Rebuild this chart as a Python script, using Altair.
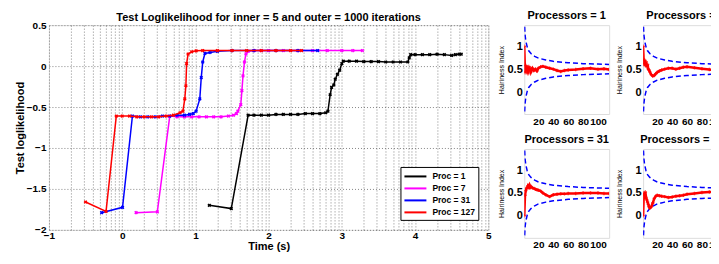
import math
import altair as alt
import pandas as pd

FONT = "Liberation Sans"

# ---------------- main plot data (Time in s, test log-likelihood) ----------------
series_names = ["Proc = 1", "Proc = 7", "Proc = 31", "Proc = 127"]
series_colors = ["#000000", "#ff00ff", "#0000ff", "#ff0000"]

t_p1 = [1.19, 1.49, 1.72, 1.80, 1.90, 2.00, 2.10, 2.20, 2.30, 2.40, 2.50, 2.60, 2.70, 2.78,
        2.81, 2.84, 2.86, 2.89, 2.91, 2.94, 2.97, 3.00, 3.02, 3.10, 3.20, 3.30, 3.40, 3.50,
        3.60, 3.70, 3.80, 3.90, 3.92, 3.94, 4.00, 4.10, 4.20, 4.30, 4.40, 4.50, 4.55, 4.60, 4.63]
ll_p1 = [-1.70, -1.74, -0.60, -0.60, -0.60, -0.60, -0.59, -0.59, -0.59, -0.59, -0.58, -0.58, -0.58, -0.57,
         -0.55, -0.35, -0.26, -0.23, -0.16, -0.10, -0.05, 0.03, 0.06, 0.06, 0.06, 0.055, 0.055, 0.055,
         0.05, 0.05, 0.05, 0.05, 0.10, 0.14, 0.14, 0.14, 0.14, 0.145, 0.14, 0.13, 0.14, 0.145, 0.145]

t_p7 = [0.19, 0.48, 0.65, 0.75, 0.85, 0.95, 1.05, 1.15, 1.25, 1.35, 1.45, 1.52, 1.56, 1.58,
        1.62, 1.635, 1.65, 1.67, 1.69, 1.72, 1.80, 1.90, 2.00, 2.20, 2.40, 2.60, 2.80, 3.00, 3.15, 3.28]
ll_p7 = [-1.79, -1.78, -0.61, -0.62, -0.62, -0.62, -0.62, -0.62, -0.62, -0.62, -0.61, -0.60, -0.58, -0.55,
         -0.47, -0.30, -0.12, 0.05, 0.15, 0.18, 0.19, 0.19, 0.19, 0.19, 0.19, 0.19, 0.19, 0.19, 0.19, 0.19]

t_p31 = [-0.28, 0.005, 0.14, 0.25, 0.35, 0.45, 0.55, 0.65, 0.75, 0.85, 0.92, 0.97, 1.01, 1.06,
         1.08, 1.10, 1.13, 1.20, 1.30, 1.50, 1.80, 2.10, 2.40, 2.67]
ll_p31 = [-1.79, -1.725, -0.61, -0.62, -0.62, -0.62, -0.61, -0.61, -0.60, -0.60, -0.59, -0.58, -0.55, -0.40,
          -0.14, 0.05, 0.155, 0.166, 0.18, 0.19, 0.19, 0.19, 0.19, 0.19]

t_p127 = [-0.50, -0.22, -0.08, 0.00, 0.10, 0.20, 0.30, 0.40, 0.50, 0.60, 0.70, 0.79, 0.83, 0.855,
          0.87, 0.88, 0.90, 0.95, 1.01, 1.10, 1.30, 1.50, 1.70, 1.90, 2.10, 2.30, 2.45]
ll_p127 = [-1.66, -1.775, -0.61, -0.61, -0.61, -0.62, -0.62, -0.62, -0.62, -0.61, -0.60, -0.57, -0.55, -0.40,
           -0.24, 0.03, 0.147, 0.175, 0.186, 0.19, 0.19, 0.19, 0.19, 0.19, 0.19, 0.19, 0.19]

main_y_ticks = [-2, -1.5, -1, -0.5, 0, 0.5]

# ---------------- hairiness panels data ----------------
panel_titles = ["Processors = 1", "Processors = 7", "Processors = 31", "Processors = 127"]
hn = [1, 2, 3, 4, 5, 6, 7, 8, 9, 10, 12, 14, 16, 18, 20, 23, 26, 30, 35, 40, 45, 50, 55, 60,
      70, 80, 90, 100, 108, 115]
h_p1 = [1.0, 0.42, 0.58, 0.45, 0.55, 0.40, 0.56, 0.46, 0.53, 0.44, 0.52, 0.47, 0.50, 0.46, 0.52,
        0.55, 0.56, 0.54, 0.52, 0.50, 0.47, 0.45, 0.47, 0.48, 0.49, 0.51, 0.52, 0.50, 0.51, 0.49]
h_p7 = [1.0, 0.60, 0.70, 0.58, 0.66, 0.55, 0.60, 0.50, 0.48, 0.44, 0.38, 0.35, 0.36, 0.40, 0.43,
        0.46, 0.48, 0.50, 0.52, 0.52, 0.50, 0.52, 0.54, 0.55, 0.53, 0.51, 0.49, 0.47, 0.47, 0.47]
h_p31 = [0.0, 0.45, 0.55, 0.60, 0.62, 0.66, 0.63, 0.67, 0.62, 0.64, 0.61, 0.60, 0.58, 0.57, 0.56,
         0.54, 0.50, 0.46, 0.42, 0.46, 0.47, 0.48, 0.48, 0.49, 0.49, 0.50, 0.50, 0.50, 0.49, 0.49]
h_p127 = [0.0, 0.50, 0.45, 0.52, 0.40, 0.35, 0.30, 0.25, 0.20, 0.17, 0.20, 0.28, 0.38, 0.43, 0.45,
          0.44, 0.43, 0.42, 0.40, 0.41, 0.43, 0.44, 0.45, 0.47, 0.49, 0.51, 0.52, 0.52, 0.50, 0.49]

band_n = [1, 2, 3, 5, 7, 10, 15, 20, 30, 40, 60, 80, 100, 115]
band_upper = [1.60, 1.26, 1.12, 0.98, 0.90, 0.84, 0.78, 0.74, 0.70, 0.67, 0.64, 0.62, 0.61, 0.60]
band_lower = [-0.60, -0.26, -0.12, 0.02, 0.10, 0.16, 0.22, 0.26, 0.30, 0.33, 0.36, 0.38, 0.39, 0.40]

panel_x_ticks = [20, 40, 60, 80, 100]
panel_y_ticks = [0, 0.5, 1]

# ---------------- main chart ----------------
rows = []
for name, ts, ls in [(series_names[0], t_p1, ll_p1), (series_names[1], t_p7, ll_p7),
                     (series_names[2], t_p31, ll_p31), (series_names[3], t_p127, ll_p127)]:
    for i, (t, l) in enumerate(zip(ts, ls)):
        rows.append({"series": name, "t": t, "ll": l, "i": i})
df = pd.DataFrame(rows)

# axis positions: integer ticks plus matlab-style minor grid positions
x_grid = sorted(set([k + math.log10(m) for k in range(-1, 5) for m in range(1, 10)] + [5]))

color_scale = alt.Scale(domain=series_names, range=series_colors)

x_enc = alt.X("t:Q", scale=alt.Scale(domain=[-1, 5], nice=False, zero=False),
              axis=alt.Axis(values=x_grid, title="Time (s)",
                            labelExpr="abs(datum.value - round(datum.value)) < 0.001 ? format(datum.value, 'd') : ''",
                            grid=True, gridDash=[1, 2], gridColor="#555555", gridOpacity=0.7,
                            ticks=False, domain=False, labelOverlap=False, labelFlush=False,
                            labelPadding=1, titlePadding=0, labelFontSize=10, titleFontSize=11,
                            labelFont=FONT, titleFont=FONT, labelFontWeight="bold", titleFontWeight="bold",
                            labelColor="black", titleColor="black"))
y_enc = alt.Y("ll:Q", scale=alt.Scale(domain=[-2, 0.5], nice=False, zero=False),
              axis=alt.Axis(values=main_y_ticks, format="~g", title="Test loglikelihood",
                            grid=True, gridDash=[1, 2], gridColor="#555555", gridOpacity=0.7,
                            ticks=False, domain=False, labelOverlap=False, labelFlush=False,
                            labelPadding=3, titlePadding=1, labelFontSize=10, titleFontSize=11,
                            labelFont=FONT, titleFont=FONT, labelFontWeight="bold", titleFontWeight="bold",
                            labelColor="black", titleColor="black"))

legend = alt.Legend(title=None, orient="none", legendX=352, legendY=142, strokeColor="black",
                    fillColor="white", padding=3, symbolType="M-1,0L3,0", symbolStrokeWidth=2,
                    symbolSize=121, labelFont=FONT, labelFontWeight="bold", labelFontSize=8.5,
                    labelColor="black", rowPadding=1, labelOffset=16)

layers = []
for name in series_names:
    b = alt.Chart(df).transform_filter(alt.datum.series == name)
    layers.append(b.mark_line(strokeWidth=1.5).encode(
        x=x_enc, y=y_enc, order="i:Q",
        color=alt.Color("series:N", scale=color_scale, legend=legend)))
    layers.append(b.mark_point(shape="cross", angle=45, size=14, filled=True, opacity=1).encode(
        x=x_enc, y=y_enc,
        color=alt.Color("series:N", scale=color_scale, legend=legend)))

main = alt.layer(*layers).properties(
    width=440, height=205,
    title=alt.TitleParams(["", "Test Loglikelihood for inner = 5 and outer = 1000 iterations"],
                          font=FONT, fontSize=11, fontWeight="bold", color="black", offset=-3,
                          lineHeight=3))

# ---------------- hairiness panels ----------------
band_df = pd.DataFrame({"n": band_n, "upper": band_upper, "lower": band_lower})


def panel(title, values, height):
    pdf = pd.DataFrame({"n": hn, "h": values})
    px = alt.X("n:Q", scale=alt.Scale(domain=[1, 115], nice=False, zero=False),
               axis=alt.Axis(values=panel_x_ticks, title=None, grid=False, ticks=False, domain=False,
                             labelOverlap=False, labelFlush=False, labelPadding=2, labelFontSize=10,
                             labelFont=FONT, labelFontWeight="bold", labelColor="black"))
    py_axis = alt.Axis(values=panel_y_ticks, format="~g", title="Hairiness Index", grid=False,
                       ticks=False, domain=False, labelOverlap=False, labelFlush=False, labelPadding=2,
                       labelFontSize=11, labelFont=FONT, labelFontWeight="bold", labelColor="black",
                       titleFontSize=7, titleFont=FONT, titleFontWeight="normal", titleColor="black",
                       titlePadding=3)
    ysc = alt.Scale(domain=[-0.48, 1.46], nice=False, zero=False)
    up = alt.Chart(band_df).mark_line(color="#0000ff", strokeDash=[5, 3], strokeWidth=1.5, clip=True).encode(
        x=px, y=alt.Y("upper:Q", scale=ysc, axis=py_axis))
    lo = alt.Chart(band_df).mark_line(color="#0000ff", strokeDash=[5, 3], strokeWidth=1.5, clip=True).encode(
        x=px, y=alt.Y("lower:Q", scale=ysc, axis=py_axis))
    red = alt.Chart(pdf).mark_line(color="#ff0000", strokeWidth=2.5, clip=True).encode(
        x=px, y=alt.Y("h:Q", scale=ysc, axis=py_axis))
    redp = alt.Chart(pdf).mark_point(color="#ff0000", shape="cross", size=12, filled=True, clip=True).encode(
        x=px, y=alt.Y("h:Q", scale=ysc, axis=py_axis))
    return alt.layer(up, lo, red, redp).properties(
        width=85, height=height,
        title=alt.TitleParams(title, font=FONT, fontSize=11, fontWeight="bold", color="black", offset=4))


p1 = panel(panel_titles[0], h_p1, 89)
p2 = panel(panel_titles[1], h_p7, 89)
p3 = panel(panel_titles[2], h_p31, 89)
p4 = panel(panel_titles[3], h_p127, 89)

right = alt.vconcat(alt.hconcat(p1, p2, spacing=5), alt.hconcat(p3, p4, spacing=5), spacing=6)

chart = alt.hconcat(main, right, spacing=4).properties(
    padding={"left": 5, "top": 0, "right": -21, "bottom": 0}
).configure_view(stroke="black", strokeWidth=1).configure(background="white")

chart.save("out.html", embed_options={"renderer": "svg", "actions": False})
